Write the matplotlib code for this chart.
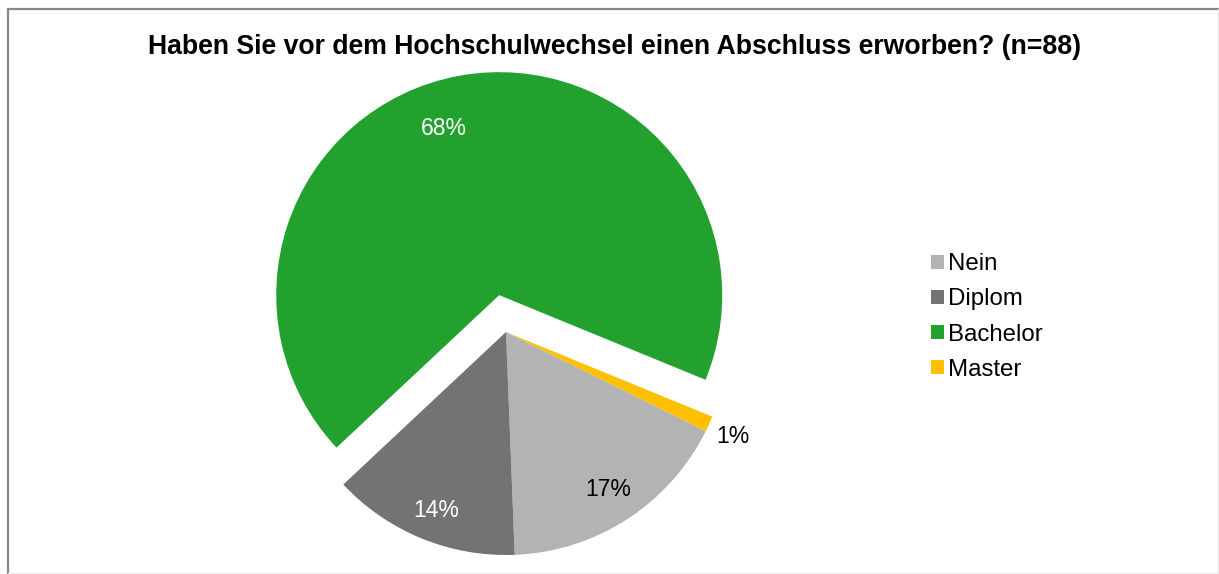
import numpy as np
import matplotlib
matplotlib.use("Agg")
import matplotlib.pyplot as plt
from matplotlib.lines import Line2D
from matplotlib.patches import Patch

plt.rcParams['font.family'] = ['Liberation Sans', 'DejaVu Sans']

categories = ["Nein", "Diplom", "Bachelor", "Master"]
counts = [15, 12, 60, 1]
colors = ["#b3b3b3", "#737373", "#23a12e", "#ffc000"]
explode_frac = [0, 0, 0.168, 0]
title = "Haben Sie vor dem Hochschulwechsel einen Abschluss erworben? (n=88)"

W, H = 1219, 574
fig = plt.figure(figsize=(W / 100, H / 100), dpi=100)
ax = fig.add_axes([0, 0, 1, 1])

cx, cy, R = 506, H - 332, 223
total = sum(counts)
wedges, _ = ax.pie(counts, colors=colors, explode=[e * R for e in explode_frac],
                   startangle=-26.4, counterclock=False, center=(cx, cy), radius=R,
                   wedgeprops=dict(linewidth=0), frame=True)
ax.set_xlim(0, W)
ax.set_ylim(0, H)
ax.set_aspect('equal')
ax.axis('off')

# label placement: (fraction of radius, angle offset deg, color)
lab_style = [(0.84, 0, "black"), (0.86, 1, "white"), (0.79, 8, "white"), (1.12, -0.5, "black")]
for w, c, (fr, off, col) in zip(wedges, counts, lab_style):
    mid = np.deg2rad((w.theta1 + w.theta2) / 2 + off)
    x0, y0 = w.center
    ax.text(x0 + fr * R * np.cos(mid), y0 + fr * R * np.sin(mid),
            f"{round(100 * c / total)}%", ha='center', va='center',
            fontsize=16.5, color=col)

fig.text(615 / W, 1 - 47 / H, title, ha='center', va='center',
         fontsize=19.15, fontweight='bold')

handles = [Patch(facecolor=c, edgecolor='none') for c in colors]
fig.legend(handles, categories, loc='center left', bbox_to_anchor=(919 / W, 1 - 317 / H),
           frameon=False, fontsize=17.3, handlelength=0.52, handleheight=0.52,
           handletextpad=0.2, labelspacing=0.55, borderpad=0)

# chart frame
fig.add_artist(Line2D([8 / W, 8 / W], [0, 1 - 9 / H], transform=fig.transFigure,
                      color="#888888", lw=1.6))
fig.add_artist(Line2D([8 / W, 1], [1 - 9 / H, 1 - 9 / H], transform=fig.transFigure,
                      color="#888888", lw=1.6))
fig.add_artist(Line2D([1218 / W, 1218 / W], [0, 1 - 9 / H], transform=fig.transFigure,
                      color="#e6e6e6", lw=1))
fig.add_artist(Line2D([8 / W, 1], [1.5 / H, 1.5 / H], transform=fig.transFigure,
                      color="#eeeeee", lw=1))

fig.savefig("out.png", dpi=100)
